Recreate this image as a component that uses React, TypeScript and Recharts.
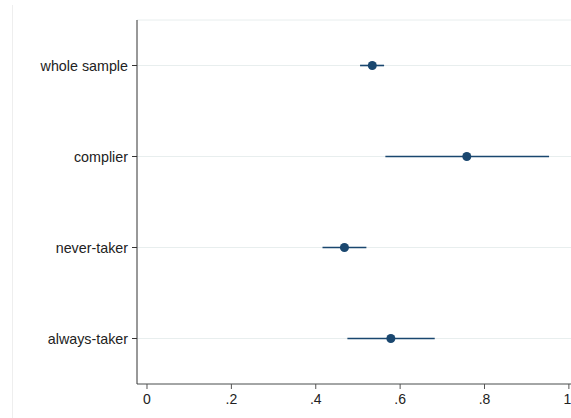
import {
  ScatterChart,
  Scatter,
  XAxis,
  YAxis,
  ZAxis,
  CartesianGrid,
  ErrorBar,
} from 'recharts'

const categories = ['whole sample', 'complier', 'never-taker', 'always-taker']
const estimates = [0.534, 0.758, 0.468, 0.578]
const lowerCI = [0.505, 0.565, 0.416, 0.475]
const upperCI = [0.562, 0.953, 0.52, 0.682]
const xTicks = [0, 0.2, 0.4, 0.6, 0.8, 1]

const data = categories.map((name, i) => ({
  name,
  pos: i + 1,
  est: estimates[i],
  err: [estimates[i] - lowerCI[i], upperCI[i] - estimates[i]],
}))

const fmtX = (v: number) => (v === 0 ? '0' : v === 1 ? '1' : String(v).replace(/^0/, ''))

export default function App() {
  return (
    <div
      style={{
        position: 'absolute',
        top: 0,
        left: 0,
        width: 571,
        height: 418,
        background: '#fff',
        fontFamily: 'Arial, "Liberation Sans", sans-serif',
      }}
    >
      {/* faint outer region edge */}
      <div
        style={{
          position: 'absolute',
          left: 12,
          top: 5,
          width: 1,
          height: 413,
          background: '#eeeeee',
        }}
      />
      <ScatterChart
        width={571}
        height={418}
        margin={{ top: 20, right: 0, left: 0, bottom: 0 }}
      >
        <CartesianGrid vertical={false} stroke="#e8eeee" strokeWidth={1} />
        <XAxis
          type="number"
          dataKey="est"
          domain={[-0.0237, 1.005]}
          ticks={xTicks}
          tickFormatter={fmtX}
          allowDataOverflow
          height={34}
          stroke="#555"
          tickSize={5}
          tickMargin={5}
          tick={{ fill: '#222', fontSize: 14 }}
        />
        <YAxis
          type="number"
          dataKey="pos"
          domain={[0.5, 4.5]}
          ticks={[1, 2, 3, 4]}
          reversed
          width={137}
          stroke="#333"
          tickSize={5}
          tickMargin={4}
          tickFormatter={(v: number) => categories[v - 1] ?? ''}
          tick={{ fill: '#222', fontSize: 14.3 }}
        />
        <ZAxis range={[72, 72]} />
        <Scatter data={data} fill="#1a476f" isAnimationActive={false}>
          <ErrorBar
            dataKey="err"
            direction="x"
            width={0}
            stroke="#1a476f"
            strokeWidth={1.6}
            isAnimationActive={false}
          />
        </Scatter>
      </ScatterChart>
    </div>
  )
}
